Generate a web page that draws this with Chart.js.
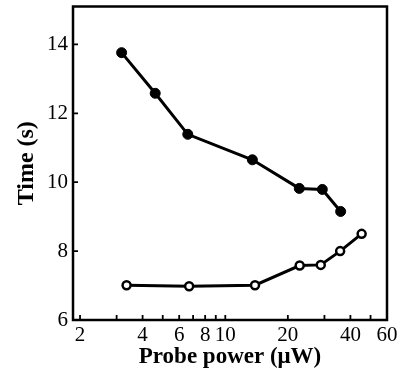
<!DOCTYPE html>
<html>
<head>
<meta charset="utf-8">
<script src="https://cdn.jsdelivr.net/npm/chart.js@4"></script>
<style>
  html, body { margin: 0; padding: 0; background: #fff; }
  #wrap { width: 409px; height: 385px; }
</style>
</head>
<body>
<div id="wrap"><canvas id="chart" width="409" height="385"></canvas></div>
<script>
// values
const filledPower = [3.17, 4.6, 6.6, 13.5, 22.7, 29.3, 35.9];
const filledTime = [13.76, 12.58, 11.39, 10.65, 9.82, 9.79, 9.15];
const openPower = [3.35, 6.7, 13.9, 22.8, 28.8, 35.7, 45.3];
const openTime = [7.01, 6.98, 7.01, 7.58, 7.6, 8.0, 8.5];

const xTicks = [2, 3, 4, 5, 6, 7, 8, 9, 10, 20, 30, 40, 50, 60];
const xLabeled = [2, 4, 6, 8, 10, 20, 40, 60];
const yTicks = [6, 8, 10, 12, 14];

const serif = 'Liberation Serif';

// frame box and inward tick marks
const frame = {
  id: 'frame',
  afterDraw(chart) {
    const ctx = chart.ctx;
    const a = chart.chartArea;
    ctx.save();
    ctx.strokeStyle = '#000';
    ctx.lineWidth = 2.5;
    ctx.strokeRect(a.left, a.top, a.right - a.left, a.bottom - a.top);
    ctx.lineWidth = 1.8;
    ctx.beginPath();
    chart.scales.x.ticks.forEach(t => {
      const px = chart.scales.x.getPixelForValue(t.value);
      ctx.moveTo(px, a.bottom);
      ctx.lineTo(px, a.bottom - 5);
    });
    chart.scales.y.ticks.forEach(t => {
      const py = chart.scales.y.getPixelForValue(t.value);
      ctx.moveTo(a.left, py);
      ctx.lineTo(a.left + 5, py);
    });
    ctx.stroke();
    ctx.restore();
  }
};

new Chart(document.getElementById('chart'), {
  type: 'line',
  data: {
    datasets: [{
      data: filledPower.map((p, i) => ({ x: p, y: filledTime[i] })),
      borderColor: '#000',
      borderWidth: 3,
      pointRadius: 5,
      pointBackgroundColor: '#000',
      pointBorderColor: '#000',
      pointBorderWidth: 1
    }, {
      data: openPower.map((p, i) => ({ x: p, y: openTime[i] })),
      borderColor: '#000',
      borderWidth: 3,
      pointRadius: 4,
      pointBackgroundColor: '#fff',
      pointBorderColor: '#000',
      pointBorderWidth: 2.5
    }]
  },
  options: {
    responsive: false,
    animation: false,
    layout: { padding: { top: 0, right: 22, left: 12, bottom: 14 } },
    plugins: { legend: { display: false }, tooltip: { enabled: false } },
    scales: {
      x: {
        type: 'logarithmic',
        min: 1.85,
        max: 60,
        afterBuildTicks: s => { s.ticks = xTicks.map(v => ({ value: v })); },
        afterFit: s => { s.height = 51; s.paddingLeft = 0; s.paddingRight = 0; },
        grid: { display: false },
        border: { display: false },
        ticks: {
          autoSkip: false,
          maxRotation: 0,
          padding: -5,
          color: '#000',
          font: { family: serif, size: 21 },
          callback: v => xLabeled.includes(v) ? String(v) : ''
        },
        title: {
          display: true,
          text: 'Probe power (μW)',
          color: '#000',
          padding: { top: 0, bottom: 0 },
          font: { family: serif, size: 23, weight: 'bold' }
        }
      },
      y: {
        min: 6,
        max: 15.1,
        afterBuildTicks: s => { s.ticks = yTicks.map(v => ({ value: v })); },
        afterFit: s => { s.width = 61; s.paddingTop = 0; s.paddingBottom = 0; },
        grid: { display: false, drawTicks: false },
        border: { display: false },
        ticks: {
          padding: 5,
          color: '#000',
          font: { family: serif, size: 21 }
        },
        title: {
          display: true,
          text: 'Time (s)',
          color: '#000',
          padding: { top: 0, bottom: 0 },
          font: { family: serif, size: 24, weight: 'bold' }
        }
      }
    }
  },
  plugins: [frame]
});
</script>
</body>
</html>
